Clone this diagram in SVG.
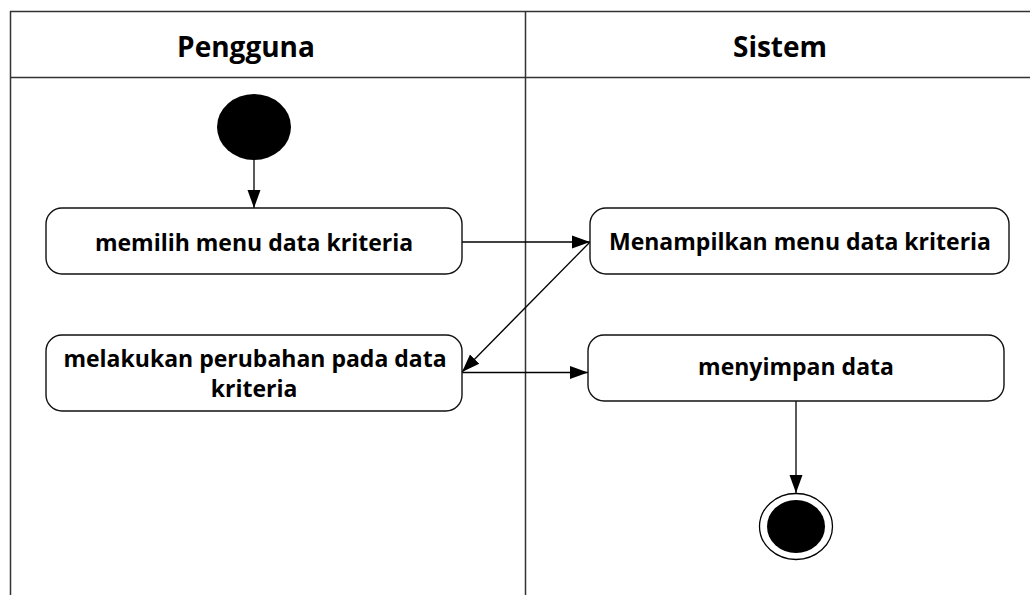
<svg xmlns="http://www.w3.org/2000/svg" width="1030" height="595" viewBox="0 0 1030 595">
  <style>
    .lane { stroke: #333; stroke-width: 1.5; fill: none; }
    .act { fill: #fff; stroke: #111; stroke-width: 1.4; }
    .flow { stroke: #000; stroke-width: 1.3; fill: none; marker-end: url(#arrow); }
    .hdr { font-family: "Open Sans", "Liberation Sans", sans-serif; font-weight: bold; font-size: 28px; fill: #000; text-anchor: middle; }
    .lbl { font-family: "Open Sans", "Liberation Sans", sans-serif; font-weight: bold; font-size: 23px; fill: #000; text-anchor: middle; }
  </style>
  <defs>
    <marker id="arrow" markerUnits="userSpaceOnUse" markerWidth="20" markerHeight="16" viewBox="0 0 20 16" refX="18" refY="8" orient="auto">
      <path d="M0,1.5 L18,8 L0,14.5 Z" fill="#000"/>
    </marker>
  </defs>
  <rect width="1030" height="595" fill="#fff"/>

  <!-- swimlanes -->
  <g id="lanes">
    <line class="lane" x1="10" y1="11.5" x2="1030" y2="11.5"/>
    <line class="lane" x1="10" y1="77.5" x2="1030" y2="77.5"/>
    <line class="lane" x1="10.5" y1="11" x2="10.5" y2="595" stroke="#555" stroke-width="2"/>
    <line class="lane" x1="525.5" y1="11" x2="525.5" y2="595" stroke="#111" stroke-width="1.3"/>
    <text class="hdr" x="246" y="57">Pengguna</text>
    <text class="hdr" x="780" y="57">Sistem</text>
  </g>

  <!-- connectors -->
  <g id="connectors">
    <line class="flow" x1="254" y1="160" x2="254" y2="208"/>
    <line class="flow" x1="462" y1="242" x2="590" y2="242"/>
    <line class="flow" x1="590" y1="242" x2="462" y2="372"/>
    <line class="flow" x1="462" y1="372.5" x2="588" y2="372.5"/>
    <line class="flow" x1="796" y1="401" x2="796" y2="493"/>
  </g>

  <g id="start">
    <ellipse cx="254" cy="127" rx="37" ry="33" fill="#000"/>
  </g>

  <g id="pilih-menu">
    <rect class="act" x="46" y="208" width="416" height="66" rx="16" ry="16"/>
    <text class="lbl" x="254" y="251">memilih menu data kriteria</text>
  </g>

  <g id="tampil-menu">
    <rect class="act" x="590" y="208" width="419" height="66" rx="16" ry="16"/>
    <text class="lbl" x="800" y="250">Menampilkan menu data kriteria</text>
  </g>

  <g id="ubah-data">
    <rect class="act" x="46" y="335" width="416" height="76" rx="16" ry="16"/>
    <text class="lbl" x="255" y="367">melakukan perubahan pada data</text>
    <text class="lbl" x="254" y="397">kriteria</text>
  </g>

  <g id="simpan-data">
    <rect class="act" x="588" y="335" width="416" height="66" rx="16" ry="16"/>
    <text class="lbl" x="796" y="375">menyimpan data</text>
  </g>

  <g id="end">
    <ellipse cx="796" cy="526.5" rx="36.5" ry="33" fill="#fff" stroke="#000" stroke-width="1.3"/>
    <ellipse cx="796" cy="526.5" rx="29" ry="26.5" fill="#000"/>
  </g>
</svg>
